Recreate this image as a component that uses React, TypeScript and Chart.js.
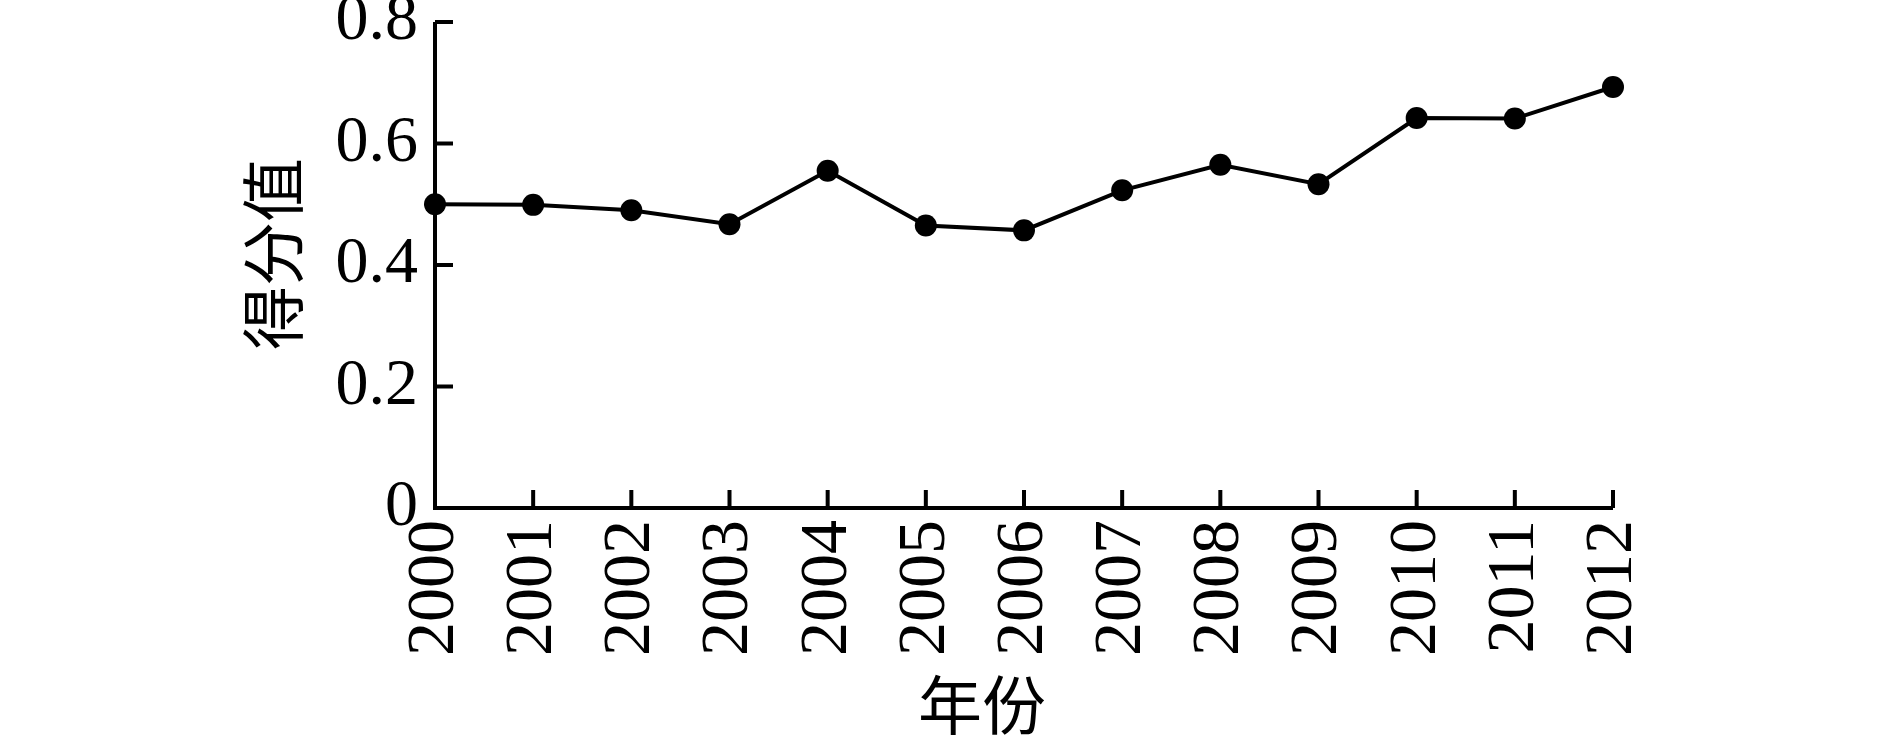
import React, { useEffect, useRef } from "react";
import { Chart, registerables } from "chart.js";

Chart.register(...registerables);

const years: string[] = ["2000", "2001", "2002", "2003", "2004", "2005", "2006", "2007", "2008", "2009", "2010", "2011", "2012"];
const scores: number[] = [0.5, 0.499, 0.49, 0.467, 0.555, 0.465, 0.457, 0.523, 0.565, 0.533, 0.642, 0.641, 0.693];
const yTitle = "得分值";
const xTitle = "年份";

const FONT = "'Liberation Serif', 'Times New Roman', 'Noto Sans CJK SC', serif";

const axesPlugin = {
  id: "inwardAxes",
  afterDraw(chart: any) {
    const { ctx, chartArea } = chart;
    const { left, right, top, bottom } = chartArea;
    const xs = chart.scales.x;
    const ys = chart.scales.y;
    const TL = 18;
    ctx.save();
    ctx.strokeStyle = "#000";
    ctx.lineWidth = 4;
    ctx.lineCap = "butt";
    ctx.beginPath();
    ctx.moveTo(left, top);
    ctx.lineTo(left, bottom);
    ctx.lineTo(right, bottom);
    ctx.stroke();
    ctx.beginPath();
    ys.ticks.forEach((_t: any, i: number) => {
      const p = ys.getPixelForTick(i);
      ctx.moveTo(left, p);
      ctx.lineTo(left + TL, p);
    });
    xs.ticks.forEach((_t: any, i: number) => {
      const p = xs.getPixelForTick(i);
      ctx.moveTo(p, bottom);
      ctx.lineTo(p, bottom - TL);
    });
    ctx.stroke();

    ctx.fillStyle = "#000";
    ctx.font = `64px ${FONT}`;
    ctx.textAlign = "center";
    ctx.textBaseline = "middle";
    ctx.fillText(xTitle, left + 547, bottom + 204);
    ctx.translate(left - 155, top + 232);
    ctx.rotate(-Math.PI / 2);
    ctx.fillText(yTitle, 0, 0);
    ctx.restore();
  },
};

export default function App() {
  const ref = useRef<HTMLCanvasElement | null>(null);
  useEffect(() => {
    if (!ref.current) return;
    const chart = new Chart(ref.current, {
      type: "line",
      data: {
        labels: years,
        datasets: [
          {
            data: scores,
            borderColor: "#000",
            backgroundColor: "#000",
            borderWidth: 4,
            pointRadius: 11,
            pointBackgroundColor: "#000",
            pointBorderWidth: 0,
            tension: 0,
            clip: false as any,
          },
        ],
      },
      options: {
        responsive: false,
        animation: false,
        devicePixelRatio: 1,
        layout: { padding: { left: 0, right: 276, top: 22, bottom: 0 } },
        plugins: { legend: { display: false }, tooltip: { enabled: false } },
        scales: {
          x: {
            type: "category",
            offset: false,
            grid: { display: false, drawTicks: false },
            border: { display: false },
            ticks: {
              color: "#000",
              font: { family: FONT, size: 68 },
              minRotation: 90,
              maxRotation: 90,
              autoSkip: false,
              padding: 12,
            },
            afterFit(scale: any) {
              scale.height = 237;
              scale.paddingLeft = 0;
              scale.paddingRight = 0;
              scale.paddingTop = 0;
              scale.paddingBottom = 0;
            },
          },
          y: {
            min: 0,
            max: 0.8,
            grid: { display: false, drawTicks: false },
            border: { display: false },
            ticks: {
              stepSize: 0.2,
              color: "#000",
              font: { family: FONT, size: 66 },
              padding: 17,
            },
            afterFit(scale: any) {
              scale.width = 435;
              scale.paddingLeft = 0;
              scale.paddingRight = 0;
              scale.paddingTop = 0;
              scale.paddingBottom = 0;
            },
          },
        },
      },
      plugins: [axesPlugin],
    });
    return () => chart.destroy();
  }, []);
  return (
    <div style={{ position: "fixed", left: 0, top: 0, width: 1889, height: 745, background: "#fff" }}>
      <canvas ref={ref} width={1889} height={745} style={{ display: "block" }} />
    </div>
  );
}
